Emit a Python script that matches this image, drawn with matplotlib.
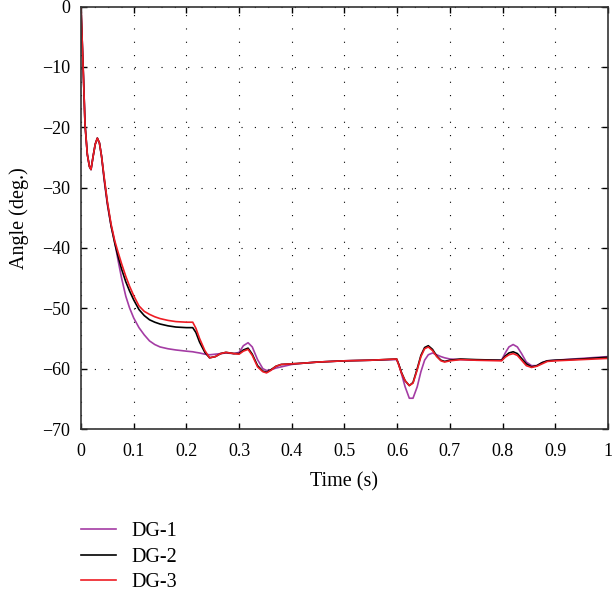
import matplotlib
matplotlib.use("Agg")
import matplotlib.pyplot as plt

# rotor angle of the three DGs after the disturbances
t = [0, 0.005, 0.0076, 0.012, 0.016, 0.019, 0.023, 0.027, 0.031, 0.035, 0.039,
     0.044, 0.05, 0.057, 0.064, 0.07, 0.077, 0.085, 0.092, 0.1, 0.11, 0.12,
     0.13, 0.14, 0.15, 0.165, 0.18, 0.2, 0.212, 0.218, 0.225, 0.235, 0.244,
     0.255, 0.265, 0.275, 0.29, 0.3, 0.308, 0.317, 0.325, 0.335, 0.345, 0.352,
     0.36, 0.37, 0.38, 0.4, 0.42, 0.45, 0.5, 0.55, 0.599, 0.603, 0.608, 0.615,
     0.623, 0.63, 0.638, 0.645, 0.652, 0.659, 0.667, 0.675, 0.683, 0.69, 0.7,
     0.72, 0.75, 0.798, 0.805, 0.812, 0.82, 0.828, 0.836, 0.845, 0.855, 0.865,
     0.875, 0.885, 0.9, 0.95, 1.0]

dg1 = [0, -12.5, -19.5, -24.5, -26.5, -27.0, -24.8, -22.8, -21.8, -22.6, -24.8,
       -28.8, -32.8, -36.3, -39.0, -41.9, -45.0, -48.0, -49.9, -51.6, -53.2, -54.4,
       -55.4, -56.0, -56.4, -56.7, -56.9, -57.1, -57.2, -57.3, -57.4, -57.6, -57.7,
       -57.6, -57.5, -57.4, -57.5, -57.3, -56.2, -55.7, -56.4, -58.5, -60.0, -60.3,
       -60.2, -59.9, -59.7, -59.3, -59.1, -58.9, -58.7, -58.6, -58.5, -59.3, -60.8, -63.0,
       -64.9, -64.9, -63.0, -60.5, -58.6, -57.7, -57.4, -57.7, -58.0, -58.2, -58.4,
       -58.5, -58.6, -58.6, -57.4, -56.4, -56.0, -56.4, -57.5, -58.9, -59.5, -59.5,
       -59.0, -58.7, -58.6, -58.3, -58.0]

dg2 = [0, -12.5, -19.5, -24.5, -26.5, -27.0, -24.8, -22.8, -21.8, -22.6, -24.8,
       -28.5, -32.5, -36.3, -39.2, -41.3, -43.5, -45.6, -47.1, -48.6, -50.2, -51.2,
       -51.9, -52.3, -52.6, -52.9, -53.1, -53.2, -53.2, -54.0, -55.6, -57.3, -58.2,
       -58.0, -57.5, -57.3, -57.5, -57.5, -56.9, -56.6, -57.6, -59.5, -60.4, -60.6,
       -60.2, -59.6, -59.3, -59.2, -59.1, -58.9, -58.7, -58.6, -58.4, -59.3, -60.6, -62.0,
       -62.8, -62.3, -60.0, -57.8, -56.5, -56.2, -56.8, -57.9, -58.6, -58.8, -58.6,
       -58.4, -58.5, -58.6, -57.9, -57.4, -57.2, -57.5, -58.3, -59.2, -59.7, -59.5,
       -59.0, -58.7, -58.6, -58.4, -58.1]

dg3 = [0, -12.5, -19.5, -24.5, -26.5, -27.0, -24.8, -22.8, -21.8, -22.6, -24.8,
       -28.3, -32.3, -36.0, -38.8, -40.6, -42.6, -44.7, -46.3, -47.9, -49.6, -50.5,
       -51.0, -51.4, -51.7, -52.0, -52.2, -52.3, -52.3, -53.3, -55.0, -57.0, -58.2,
       -58.0, -57.5, -57.3, -57.5, -57.6, -57.1, -56.8, -57.8, -59.7, -60.5, -60.7,
       -60.3, -59.6, -59.3, -59.2, -59.1, -58.9, -58.7, -58.6, -58.4, -59.4, -60.7, -62.0,
       -62.8, -62.4, -60.2, -58.0, -56.7, -56.4, -57.0, -58.0, -58.7, -58.9, -58.7,
       -58.5, -58.6, -58.7, -58.1, -57.7, -57.5, -57.8, -58.6, -59.5, -59.8, -59.6,
       -59.2, -58.8, -58.7, -58.5, -58.3]

labels = ["DG-1", "DG-2", "DG-3"]
colors = ["#a43ca4", "black", "#ee1c24"]

plt.rcParams["font.family"] = ["Liberation Serif", "DejaVu Serif"]

fig = plt.figure(figsize=(6.16, 5.98), dpi=100)
ax = fig.add_axes([0.1315, 0.2826, 0.8555, 0.7063])

for y, lab, c in zip([dg1, dg2, dg3], labels, colors):
    ax.plot(t, y, color=c, lw=1.2, label=lab)

ax.set_xlim(0, 1)
ax.set_ylim(-70, 0)
ax.set_xticks([i / 10 for i in range(11)])
ax.set_xticklabels(["0", "0.1", "0.2", "0.3", "0.4", "0.5", "0.6", "0.7", "0.8", "0.9", "1"])
ax.set_yticks(range(-70, 1, 10))
ax.set_yticklabels(["\u221270", "\u221260", "\u221250", "\u221240", "\u221230", "\u221220", "\u221210", "0"])
ax.tick_params(direction="in", length=4, width=1, top=True, right=True, labelsize=13)
ax.tick_params(axis="x", pad=10)
ax.tick_params(axis="y", pad=8)
ax.grid(True, color="black", linestyle=(0, (1, 11)), lw=0.8)
for s in ax.spines.values():
    s.set_color("#333333")
    s.set_linewidth(1.2)

ax.set_xlabel("Time (s)", fontsize=14.5, labelpad=9)
ax.set_ylabel("Angle (deg.)", fontsize=14.5, labelpad=9)

fig.legend(loc="upper left", bbox_to_anchor=(0.1315, 0.127), frameon=False,
           fontsize=14.5, handlelength=1.75, handletextpad=0.75, labelspacing=0.32,
           borderpad=0, borderaxespad=0)

fig.savefig("out.png", dpi=100)
